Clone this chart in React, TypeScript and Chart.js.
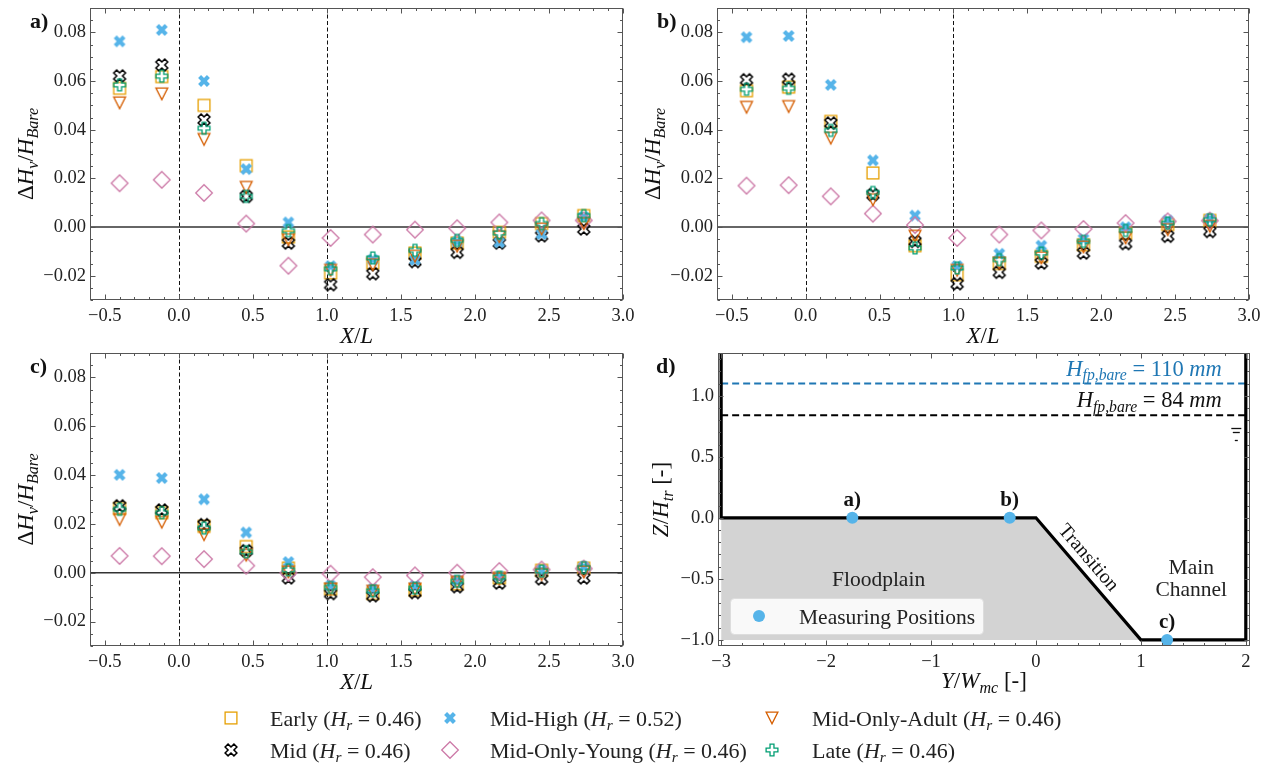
import React, { useEffect, useRef } from 'react';
import { Chart, registerables } from 'chart.js';

Chart.register(...registerables);

const FONT = '"Liberation Serif", "DejaVu Serif", serif';
const TICK_SIZE = 18.5;
const LBL = 23;
const TXT = 21.5;
const LEG = 22;

// ---------------- data ----------------
const xPos = [-0.4, -0.115, 0.17, 0.455, 0.74, 1.025, 1.31, 1.595, 1.88, 2.165, 2.45, 2.735];

const seriesNames = ['Early', 'Mid', 'Mid-High', 'Mid-Only-Young', 'Mid-Only-Adult', 'Late'];
const seriesHr = ['0.46', '0.46', '0.52', '0.46', '0.46', '0.46'];
const seriesColors = ['#E69F00', '#000000', '#56B4E9', '#CC79A7', '#D55E00', '#009E73'];
const seriesMarkers = ['square', 'xhollow', 'xfill', 'diamond', 'tri', 'plus'];

// panel a)
const earlyA = [0.057, 0.0618, 0.05, 0.0252, -0.0041, -0.0189, -0.0148, -0.0107, -0.0066, -0.0022, 0.0014, 0.0047];
const midA = [0.0621, 0.0666, 0.044, 0.0126, -0.0066, -0.0237, -0.0192, -0.0142, -0.0104, -0.0066, -0.0036, -0.0008];
const midHighA = [0.0763, 0.081, 0.06, 0.0238, 0.0019, -0.0161, -0.0134, -0.0135, -0.006, -0.0063, -0.0029, 0.0041];
const youngA = [0.018, 0.0194, 0.014, 0.0014, -0.0159, -0.0045, -0.0031, -0.0011, -0.0005, 0.0019, 0.0027, 0.0027];
const adultA = [0.051, 0.0547, 0.036, 0.0163, -0.0052, -0.0178, -0.0155, -0.012, -0.0079, -0.004, -0.0008, 0.0014];
const lateA = [0.0584, 0.062, 0.0406, 0.0126, -0.0015, -0.0172, -0.0127, -0.0096, -0.0055, -0.0025, 0.0014, 0.0047];

// panel b)
const earlyB = [0.056, 0.0575, 0.0434, 0.0222, -0.0077, -0.0196, -0.015, -0.012, -0.0073, -0.0025, 0.001, 0.0027];
const midB = [0.0605, 0.0607, 0.0427, 0.0133, -0.0059, -0.0233, -0.0186, -0.0148, -0.0107, -0.0068, -0.0038, -0.0018];
const midHighB = [0.078, 0.0785, 0.0584, 0.0274, 0.0047, -0.0161, -0.011, -0.0077, -0.0049, -0.0001, 0.0027, 0.0033];
const youngB = [0.017, 0.0172, 0.0126, 0.0055, 0.0008, -0.0045, -0.0031, -0.0014, -0.0008, 0.0016, 0.0023, 0.0026];
const adultB = [0.0492, 0.0495, 0.0365, 0.0112, -0.0038, -0.0178, -0.0148, -0.0127, -0.0082, -0.0045, -0.0011, 0.0003];
const lateB = [0.0566, 0.057, 0.0397, 0.0142, -0.0086, -0.0168, -0.0134, -0.0107, -0.0059, -0.0014, 0.0016, 0.003];

// panel c)
const earlyC = [0.0263, 0.0246, 0.019, 0.0107, 0.0019, -0.0067, -0.0085, -0.0071, -0.0046, -0.0021, 0.001, 0.0019];
const midC = [0.0274, 0.0257, 0.0197, 0.009, -0.0021, -0.0085, -0.0094, -0.0081, -0.0057, -0.0042, -0.0025, -0.0021];
const midHighC = [0.0401, 0.0388, 0.0301, 0.0165, 0.0044, -0.0053, -0.0067, -0.0053, -0.0032, -0.0015, 0.001, 0.0024];
const youngC = [0.0069, 0.0068, 0.0056, 0.0029, -0.0001, -0.0004, -0.0018, -0.0011, 0.0, 0.0007, 0.0013, 0.0017];
const adultC = [0.0218, 0.0207, 0.0156, 0.0072, 0.0003, -0.0067, -0.0076, -0.0067, -0.0039, -0.0025, -0.0007, 0.0003];
const lateC = [0.026, 0.0246, 0.0183, 0.0086, 0.0012, -0.006, -0.0074, -0.0063, -0.0035, -0.0018, 0.0007, 0.0021];

// axes a)-c)
const xRangeABC = [-0.6, 3.0];
const yRangeABC = [-0.03, 0.09];
const xTicksABC = [-0.5, 0, 0.5, 1, 1.5, 2, 2.5, 3];
const xTickLabelsABC = ['\u22120.5', '0.0', '0.5', '1.0', '1.5', '2.0', '2.5', '3.0'];
const yTicksABC = [-0.02, 0, 0.02, 0.04, 0.06, 0.08];
const yTickLabelsABC = ['\u22120.02', '0.00', '0.02', '0.04', '0.06', '0.08'];
const refLinesX = [0, 1];
const refLineY = 0;

// panel d) geometry
const xRangeD = [-3.03, 2.04];
const yRangeD = [-1.05, 1.35];
const xTicksD = [-3, -2, -1, 0, 1, 2];
const xTickLabelsD = ['\u22123', '\u22122', '\u22121', '0', '1', '2'];
const yTicksD = [-1, -0.5, 0, 0.5, 1];
const yTickLabelsD = ['\u22121.0', '\u22120.5', '0.0', '0.5', '1.0'];
const wallX = [-3, -3, 0, 1, 2, 2];
const wallY = [1.5, 0, 0, -1, -1, 1.5];
const bedX = [-3, 0, 1];
const bedY = [0, 0, -1];
const bedBase = -1;
const levelX = [-3, 2];
const levelBlue = 1.1;
const levelBlack = 0.84;
const measX = [-1.75, -0.25, 1.25];
const measY = [0, 0, -1];
const measLabels = ['a)', 'b)', 'c)'];

// ---------------- helpers ----------------
type Seg = { t: string; it?: boolean; sub?: boolean; bold?: boolean };

function segFont(s: Seg, size: number) {
  const sz = Math.round((s.sub ? size * 0.7 : size) * 10) / 10;
  return `${s.it ? 'italic ' : ''}${s.bold ? 'bold ' : ''}${sz}px ${FONT}`;
}
function richWidth(ctx: CanvasRenderingContext2D, segs: Seg[], size: number) {
  let w = 0;
  for (const s of segs) {
    ctx.font = segFont(s, size);
    w += ctx.measureText(s.t).width;
  }
  return w;
}
// (x, y) = anchor point, y is the vertical centre of the text line
function drawRich(
  ctx: CanvasRenderingContext2D,
  segs: Seg[],
  x: number,
  y: number,
  size: number,
  align: 'left' | 'center' | 'right',
  color: string,
  angle = 0
) {
  ctx.save();
  ctx.translate(x, y);
  if (angle) ctx.rotate(angle);
  ctx.fillStyle = color;
  ctx.textBaseline = 'alphabetic';
  ctx.textAlign = 'left';
  const w = richWidth(ctx, segs, size);
  let cx = align === 'left' ? 0 : align === 'center' ? -w / 2 : -w;
  const base = size * 0.35;
  for (const s of segs) {
    ctx.font = segFont(s, size);
    ctx.fillText(s.t, cx, base + (s.sub ? size * 0.2 : 0));
    cx += ctx.measureText(s.t).width;
  }
  ctx.restore();
}

const X_PATH = [[-1, -2], [0, -1], [1, -2], [2, -1], [1, 0], [2, 1], [1, 2], [0, 1], [-1, 2], [-2, 1], [-1, 0], [-2, -1]];
const P_PATH = [[-1, -3], [1, -3], [1, -1], [3, -1], [3, 1], [1, 1], [1, 3], [-1, 3], [-1, 1], [-3, 1], [-3, -1], [-1, -1]];

function makeMarker(kind: string, color: string): HTMLCanvasElement {
  const S = 22;
  const c = document.createElement('canvas');
  c.width = S;
  c.height = S;
  const g = c.getContext('2d')!;
  g.translate(S / 2, S / 2);
  g.lineWidth = kind === 'xhollow' ? 1.5 : 1.3;
  g.strokeStyle = color;
  g.fillStyle = color;
  g.lineJoin = 'miter';
  const h = 5.9;
  const poly = (pts: number[][], k: number) => {
    g.beginPath();
    pts.forEach(([px, py], i) => (i ? g.lineTo(px * k, py * k) : g.moveTo(px * k, py * k)));
    g.closePath();
  };
  switch (kind) {
    case 'square':
      g.strokeRect(-h, -h, 2 * h, 2 * h);
      break;
    case 'xfill':
      poly(X_PATH, h / 2);
      g.fill();
      break;
    case 'xhollow':
      poly(X_PATH, h / 2);
      g.stroke();
      break;
    case 'plus':
      poly(P_PATH, h / 3);
      g.stroke();
      break;
    case 'diamond':
      poly([[0, -1], [1, 0], [0, 1], [-1, 0]], h * 1.41);
      g.stroke();
      break;
    case 'tri':
      poly([[-1, -1], [1, -1], [0, 1]], h);
      g.stroke();
      break;
  }
  return c;
}

function drawFrame(
  ctx: CanvasRenderingContext2D,
  a: any,
  sx: any,
  sy: any,
  xMajor: number[],
  xStep: number,
  yMajor: number[],
  yStep: number
) {
  ctx.save();
  ctx.strokeStyle = '#555';
  ctx.lineWidth = 1;
  const L = Math.round(a.left) + 0.5;
  const R = Math.round(a.right) - 0.5;
  const T = Math.round(a.top) + 0.5;
  const B = Math.round(a.bottom) - 0.5;
  ctx.strokeRect(L, T, R - L, B - T);
  const isMajor = (v: number, arr: number[]) => arr.some((m) => Math.abs(m - v) < 1e-9);
  const seg = (x1: number, y1: number, x2: number, y2: number) => {
    ctx.beginPath();
    ctx.moveTo(x1, y1);
    ctx.lineTo(x2, y2);
    ctx.stroke();
  };
  for (let k = Math.ceil(sx.min / xStep - 1e-9); k * xStep <= sx.max + 1e-9; k++) {
    const v = k * xStep;
    const len = isMajor(v, xMajor) ? 5 : 2.5;
    const px = Math.round(sx.getPixelForValue(v)) + 0.5;
    seg(px, B, px, B - len);
    seg(px, T, px, T + len);
  }
  for (let k = Math.ceil(sy.min / yStep - 1e-9); k * yStep <= sy.max + 1e-9; k++) {
    const v = k * yStep;
    const len = isMajor(v, yMajor) ? 5 : 2.5;
    const py = Math.round(sy.getPixelForValue(v)) + 0.5;
    seg(L, py, L + len, py);
    seg(R, py, R - len, py);
  }
  ctx.restore();
}

function axisOpts(range: number[], ticks: number[], labels: string[], isX: boolean, size: number) {
  return {
    type: 'linear',
    position: isX ? 'bottom' : 'left',
    min: range[0],
    max: range[1],
    grid: { display: false, drawTicks: false },
    border: { display: false },
    ticks: {
      autoSkip: false,
      maxRotation: 0,
      padding: isX ? 5 : 4,
      color: '#222',
      font: { family: FONT, size: TICK_SIZE },
      callback: (_v: any, i: number) => labels[i],
    },
    afterBuildTicks: (s: any) => {
      s.ticks = ticks.map((v) => ({ value: v }));
    },
    afterFit: (s: any) => {
      if (isX) {
        s.height = size;
        s.paddingLeft = 0;
        s.paddingRight = 0;
      } else {
        s.width = size;
        s.paddingTop = 0;
        s.paddingBottom = 0;
      }
    },
  };
}

const xLabelABC: Seg[] = [{ t: 'X', it: true }, { t: '/' }, { t: 'L', it: true }];
const yLabelABC: Seg[] = [
  { t: '\u0394' },
  { t: 'H', it: true },
  { t: 'v', it: true, sub: true },
  { t: '/' },
  { t: 'H', it: true },
  { t: 'Bare', it: true, sub: true },
];
const xLabelD: Seg[] = [{ t: 'Y', it: true }, { t: '/' }, { t: 'W', it: true }, { t: 'mc', it: true, sub: true }, { t: ' [-]' }];
const yLabelD: Seg[] = [{ t: 'Z', it: true }, { t: '/' }, { t: 'H', it: true }, { t: 'tr', it: true, sub: true }, { t: ' [-]' }];

const legMarkerX = [231, 450, 772];
const legTextX = [270, 490, 812];
const legRowY = [718, 750];

type Lay = { top: number; right: number; bottom: number; xh: number; yw: number };

function buildABC(
  canvas: HTMLCanvasElement,
  vals: number[][],
  label: string,
  lay: Lay,
  markers: HTMLCanvasElement[],
  withLegend: boolean,
  off: { x: number; y: number }
) {
  const datasets = seriesNames.map((name, i) => ({
    label: name,
    data: xPos.map((x, j) => ({ x, y: vals[i][j] })),
    pointStyle: markers[i],
    pointRadius: 6,
    showLine: false,
    order: seriesNames.length - 1 - i,
  }));
  const plugin = {
    id: 'abc',
    beforeDatasetsDraw(chart: any) {
      const { ctx, chartArea: a, scales } = chart;
      ctx.save();
      ctx.beginPath();
      ctx.rect(a.left, a.top, a.right - a.left, a.bottom - a.top);
      ctx.clip();
      ctx.strokeStyle = '#111';
      ctx.lineWidth = 1;
      ctx.setLineDash([4, 2.5]);
      for (const v of refLinesX) {
        const px = Math.round(scales.x.getPixelForValue(v)) + 0.5;
        ctx.beginPath();
        ctx.moveTo(px, a.top);
        ctx.lineTo(px, a.bottom);
        ctx.stroke();
      }
      ctx.setLineDash([]);
      ctx.strokeStyle = '#333';
      ctx.lineWidth = 1.4;
      const py = scales.y.getPixelForValue(refLineY);
      ctx.beginPath();
      ctx.moveTo(a.left, py);
      ctx.lineTo(a.right, py);
      ctx.stroke();
      ctx.restore();
    },
    afterDraw(chart: any) {
      const { ctx, chartArea: a, scales } = chart;
      drawFrame(ctx, a, scales.x, scales.y, xTicksABC, 0.1, yTicksABC, 0.005);
      drawRich(ctx, xLabelABC, (a.left + a.right) / 2, a.bottom + 35, LBL, 'center', '#111');
      drawRich(ctx, yLabelABC, a.left - 65, (a.top + a.bottom) / 2, LBL, 'center', '#111', -Math.PI / 2);
      drawRich(ctx, [{ t: label, bold: true }], a.left - 60, a.top + 12, 22, 'left', '#111');
      if (withLegend) {
        seriesNames.forEach((name, i) => {
          const col = Math.floor(i / 2);
          const row = i % 2;
          const mx = legMarkerX[col] - off.x;
          const my = legRowY[row] - off.y;
          const m = markers[i];
          ctx.drawImage(m, Math.round(mx - m.width / 2), Math.round(my - m.height / 2));
          drawRich(
            ctx,
            [{ t: name + ' (' }, { t: 'H', it: true }, { t: 'r', it: true, sub: true }, { t: ' = ' + seriesHr[i] + ')' }],
            legTextX[col] - off.x,
            my,
            LEG,
            'left',
            '#222'
          );
        });
      }
    },
  };
  return new Chart(canvas, {
    type: 'scatter',
    data: { datasets } as any,
    options: {
      animation: false,
      responsive: false,
      events: [],
      layout: { padding: { left: 0, top: lay.top, right: lay.right, bottom: lay.bottom } },
      plugins: { legend: { display: false }, tooltip: { enabled: false } },
      scales: {
        x: axisOpts(xRangeABC, xTicksABC, xTickLabelsABC, true, lay.xh) as any,
        y: axisOpts(yRangeABC, yTicksABC, yTickLabelsABC, false, lay.yw) as any,
      },
    },
    plugins: [plugin],
  });
}

function buildD(canvas: HTMLCanvasElement, lay: Lay) {
  const datasets: any[] = [
    {
      type: 'line',
      data: bedX.map((x, i) => ({ x, y: bedY[i] })),
      fill: { value: bedBase },
      backgroundColor: '#d3d3d3',
      borderWidth: 0,
      pointRadius: 0,
      order: 4,
    },
    {
      type: 'line',
      data: levelX.map((x) => ({ x, y: levelBlue })),
      borderColor: '#1f77b4',
      borderDash: [7, 4],
      borderWidth: 2,
      pointRadius: 0,
      fill: false,
      order: 3,
    },
    {
      type: 'line',
      data: levelX.map((x) => ({ x, y: levelBlack })),
      borderColor: '#000',
      borderDash: [7, 4],
      borderWidth: 2,
      pointRadius: 0,
      fill: false,
      order: 2,
    },
    {
      type: 'line',
      data: wallX.map((x, i) => ({ x, y: wallY[i] })),
      borderColor: '#000',
      borderWidth: 3.2,
      borderJoinStyle: 'miter',
      pointRadius: 0,
      fill: false,
      clip: 0,
      order: 1,
    },
    {
      type: 'scatter',
      data: measX.map((x, i) => ({ x, y: measY[i] })),
      pointStyle: 'circle',
      pointRadius: 6,
      backgroundColor: '#56B4E9',
      borderWidth: 0,
      order: 0,
    },
  ];
  const plugin = {
    id: 'dpanel',
    afterDraw(chart: any) {
      const { ctx, chartArea: a, scales } = chart;
      const sx = scales.x;
      const sy = scales.y;
      drawFrame(ctx, a, sx, sy, xTicksD, 0.2, yTicksD, 0.1);
      drawRich(ctx, xLabelD, (a.left + a.right) / 2, a.bottom + 34, LBL, 'center', '#111');
      drawRich(ctx, yLabelD, a.left - 58, (a.top + a.bottom) / 2, LBL, 'center', '#111', -Math.PI / 2);
      drawRich(ctx, [{ t: 'd)', bold: true }], a.left - 62, a.top + 12, 22, 'left', '#111');

      // level annotations
      const rx = sx.getPixelForValue(levelX[1]) - 24;
      drawRich(
        ctx,
        [{ t: 'H', it: true }, { t: 'fp,bare', it: true, sub: true }, { t: ' = 110 ' }, { t: 'mm', it: true }],
        rx,
        sy.getPixelForValue(levelBlue) - 8 - 0.35 * 22.5,
        22.5,
        'right',
        '#1f77b4'
      );
      drawRich(
        ctx,
        [{ t: 'H', it: true }, { t: 'fp,bare', it: true, sub: true }, { t: ' = 84 ' }, { t: 'mm', it: true }],
        rx,
        sy.getPixelForValue(levelBlack) - 8 - 0.35 * 22.5,
        22.5,
        'right',
        '#111'
      );
      // water level symbol
      const wx = sx.getPixelForValue(levelX[1]) - 9.5;
      const wy = sy.getPixelForValue(levelBlack);
      ctx.save();
      ctx.strokeStyle = '#111';
      ctx.lineWidth = 1.3;
      [[12.5, 10], [16.5, 7], [24.5, 3]].forEach(([dy, w]) => {
        ctx.beginPath();
        ctx.moveTo(wx - w / 2, Math.round(wy + dy) + 0.5);
        ctx.lineTo(wx + w / 2, Math.round(wy + dy) + 0.5);
        ctx.stroke();
      });
      ctx.restore();

      // region names
      drawRich(ctx, [{ t: 'Floodplain' }], sx.getPixelForValue(-1.5), sy.getPixelForValue(-0.5), TXT, 'center', '#222');
      drawRich(ctx, [{ t: 'Main' }], sx.getPixelForValue(1.48), sy.getPixelForValue(-0.4), TXT, 'center', '#222');
      drawRich(ctx, [{ t: 'Channel' }], sx.getPixelForValue(1.48), sy.getPixelForValue(-0.58), TXT, 'center', '#222');
      const ang = Math.atan2(
        sy.getPixelForValue(bedY[2]) - sy.getPixelForValue(bedY[1]),
        sx.getPixelForValue(bedX[2]) - sx.getPixelForValue(bedX[1])
      );
      drawRich(ctx, [{ t: 'Transition' }], sx.getPixelForValue(0.51), sy.getPixelForValue(-0.32), 20, 'center', '#111', ang);

      // measuring labels
      measX.forEach((x, i) => {
        drawRich(
          ctx,
          [{ t: measLabels[i], bold: true }],
          sx.getPixelForValue(x),
          sy.getPixelForValue(measY[i]) - 19,
          21,
          'center',
          '#111'
        );
      });

      // legend box
      const bx = a.left + 12;
      const bw = 253;
      const bh = 36;
      const by = a.bottom - 12 - bh;
      ctx.save();
      ctx.fillStyle = 'rgba(255,255,255,0.85)';
      ctx.strokeStyle = 'rgba(220,220,220,0.9)';
      ctx.lineWidth = 1;
      ctx.beginPath();
      (ctx as any).roundRect(bx + 0.5, by + 0.5, bw, bh, 4);
      ctx.fill();
      ctx.stroke();
      ctx.fillStyle = '#56B4E9';
      ctx.beginPath();
      ctx.arc(bx + 29, by + bh / 2, 6, 0, Math.PI * 2);
      ctx.fill();
      ctx.restore();
      drawRich(ctx, [{ t: 'Measuring Positions' }], bx + 69, by + bh / 2, TXT, 'left', '#222');
    },
  };
  return new Chart(canvas, {
    type: 'scatter',
    data: { datasets },
    options: {
      animation: false,
      responsive: false,
      events: [],
      layout: { padding: { left: 0, top: lay.top, right: lay.right, bottom: lay.bottom } },
      plugins: { legend: { display: false }, tooltip: { enabled: false } },
      scales: {
        x: axisOpts(xRangeD, xTicksD, xTickLabelsD, true, lay.xh) as any,
        y: axisOpts(yRangeD, yTicksD, yTickLabelsD, false, lay.yw) as any,
      },
    },
    plugins: [plugin],
  });
}

export default function App() {
  const refA = useRef<HTMLCanvasElement>(null);
  const refB = useRef<HTMLCanvasElement>(null);
  const refC = useRef<HTMLCanvasElement>(null);
  const refD = useRef<HTMLCanvasElement>(null);

  useEffect(() => {
    const markers = seriesMarkers.map((m, i) => makeMarker(m, seriesColors[i]));
    const charts = [
      buildABC(refA.current!, [earlyA, midA, midHighA, youngA, adultA, lateA], 'a)', { top: 8, right: 17, bottom: 0, xh: 45, yw: 90 }, markers, false, { x: 0, y: 0 }),
      buildABC(refB.current!, [earlyB, midB, midHighB, youngB, adultB, lateB], 'b)', { top: 8, right: 18, bottom: 0, xh: 45, yw: 87 }, markers, false, { x: 630, y: 0 }),
      buildABC(refC.current!, [earlyC, midC, midHighC, youngC, adultC, lateC], 'c)', { top: 8, right: 644, bottom: 60, xh: 59, yw: 90 }, markers, true, { x: 0, y: 345 }),
      buildD(refD.current!, { top: 8, right: 17, bottom: 0, xh: 59, yw: 88 }),
    ];
    return () => charts.forEach((c) => c.destroy());
  }, []);

  const abs = (l: number, t: number, w: number, h: number): React.CSSProperties => ({
    position: 'absolute',
    left: l,
    top: t,
    width: w,
    height: h,
  });

  return (
    <div style={{ position: 'absolute', left: 0, top: 0, width: 1267, height: 765, background: '#fff', overflow: 'hidden' }}>
      <canvas ref={refA} width={640} height={345} style={abs(0, 0, 640, 345)} />
      <canvas ref={refB} width={637} height={345} style={abs(630, 0, 637, 345)} />
      <canvas ref={refC} width={1267} height={420} style={abs(0, 345, 1267, 420)} />
      <canvas ref={refD} width={637} height={360} style={abs(630, 345, 637, 360)} />
    </div>
  );
}
